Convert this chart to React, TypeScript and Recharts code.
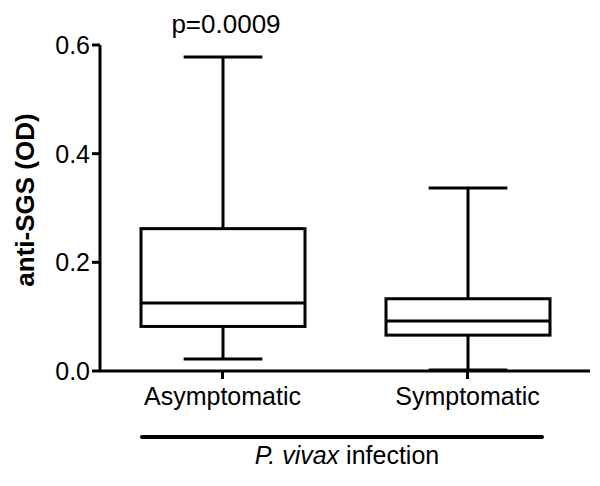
import React from 'react';
import { ComposedChart, Bar, XAxis, YAxis } from 'recharts';

const categories = ['Asymptomatic', 'Symptomatic'];
const mins = [0.022, 0.002];
const q1s = [0.082, 0.066];
const medians = [0.125, 0.092];
const q3s = [0.262, 0.133];
const maxs = [0.578, 0.337];
const yTicks = [0, 0.2, 0.4, 0.6];

const data = categories.map((name, i) => ({
  name,
  range: [mins[i], maxs[i]],
  min: mins[i],
  q1: q1s[i],
  median: medians[i],
  q3: q3s[i],
  max: maxs[i],
}));

const font = '"Liberation Sans", Arial, sans-serif';

// draws whiskers + box; pixel positions interpolated from the range bar the library laid out
const BoxShape = (props: any) => {
  const { x, y, width, height, payload } = props;
  const { min, q1, median, q3, max } = payload;
  const py = (v: number) => y + (height * (max - v)) / (max - min);
  const cx = x + width / 2;
  const cap = width * 0.24;
  const s = { stroke: '#000', strokeWidth: 3, fill: 'none' };
  return (
    <g>
      <line x1={cx} x2={cx} y1={py(max)} y2={py(q3)} {...s} />
      <line x1={cx} x2={cx} y1={py(q1)} y2={py(min)} {...s} />
      <line x1={cx - cap} x2={cx + cap} y1={py(max)} y2={py(max)} {...s} />
      <line x1={cx - cap} x2={cx + cap} y1={py(min)} y2={py(min)} {...s} />
      <rect x={x} y={py(q3)} width={width} height={py(q1) - py(q3)} {...s} fill="#fff" />
      <line x1={x} x2={x + width} y1={py(median)} y2={py(median)} {...s} />
    </g>
  );
};

export default function App() {
  return (
    <div style={{ position: 'absolute', left: 0, top: 0, width: 600, height: 486, background: '#fff' }}>
      <ComposedChart
        width={600}
        height={486}
        data={data}
        margin={{ top: 45, right: 10, bottom: 75, left: 20 }}
      >
        <XAxis
          dataKey="name"
          height={40}
          tickSize={8}
          tickMargin={8}
          axisLine={{ stroke: '#000', strokeWidth: 3 }}
          tickLine={{ stroke: '#000', strokeWidth: 3 }}
          tick={{ fill: '#000', fontSize: 25, fontFamily: font }}
        />
        <YAxis
          width={80}
          type="number"
          domain={[0, 0.6]}
          ticks={yTicks}
          tickFormatter={(v: number) => v.toFixed(1)}
          tickSize={8}
          tickMargin={2}
          axisLine={{ stroke: '#000', strokeWidth: 3 }}
          tickLine={{ stroke: '#000', strokeWidth: 3 }}
          tick={{ fill: '#000', fontSize: 25, fontFamily: font }}
        />
        <Bar dataKey="range" barSize={164} shape={BoxShape} isAnimationActive={false} />
      </ComposedChart>
      <svg
        width={600}
        height={486}
        style={{ position: 'absolute', left: 0, top: 0, pointerEvents: 'none' }}
      >
        <text x={226} y={33} textAnchor="middle" fontSize={26} fontFamily={font} fill="#000">
          p=0.0009
        </text>
        <text
          transform="translate(34,200) rotate(-90)"
          textAnchor="middle"
          fontSize={26}
          fontWeight="bold"
          fontFamily={font}
          fill="#000"
        >
          anti-SGS (OD)
        </text>
        <line x1={142} x2={542} y1={437} y2={437} stroke="#000" strokeWidth={4} strokeLinecap="round" />
        <text x={347} y={464} textAnchor="middle" fontSize={25} fontFamily={font} fill="#000">
          <tspan fontStyle="italic">P. vivax</tspan> infection
        </text>
      </svg>
    </div>
  );
}
